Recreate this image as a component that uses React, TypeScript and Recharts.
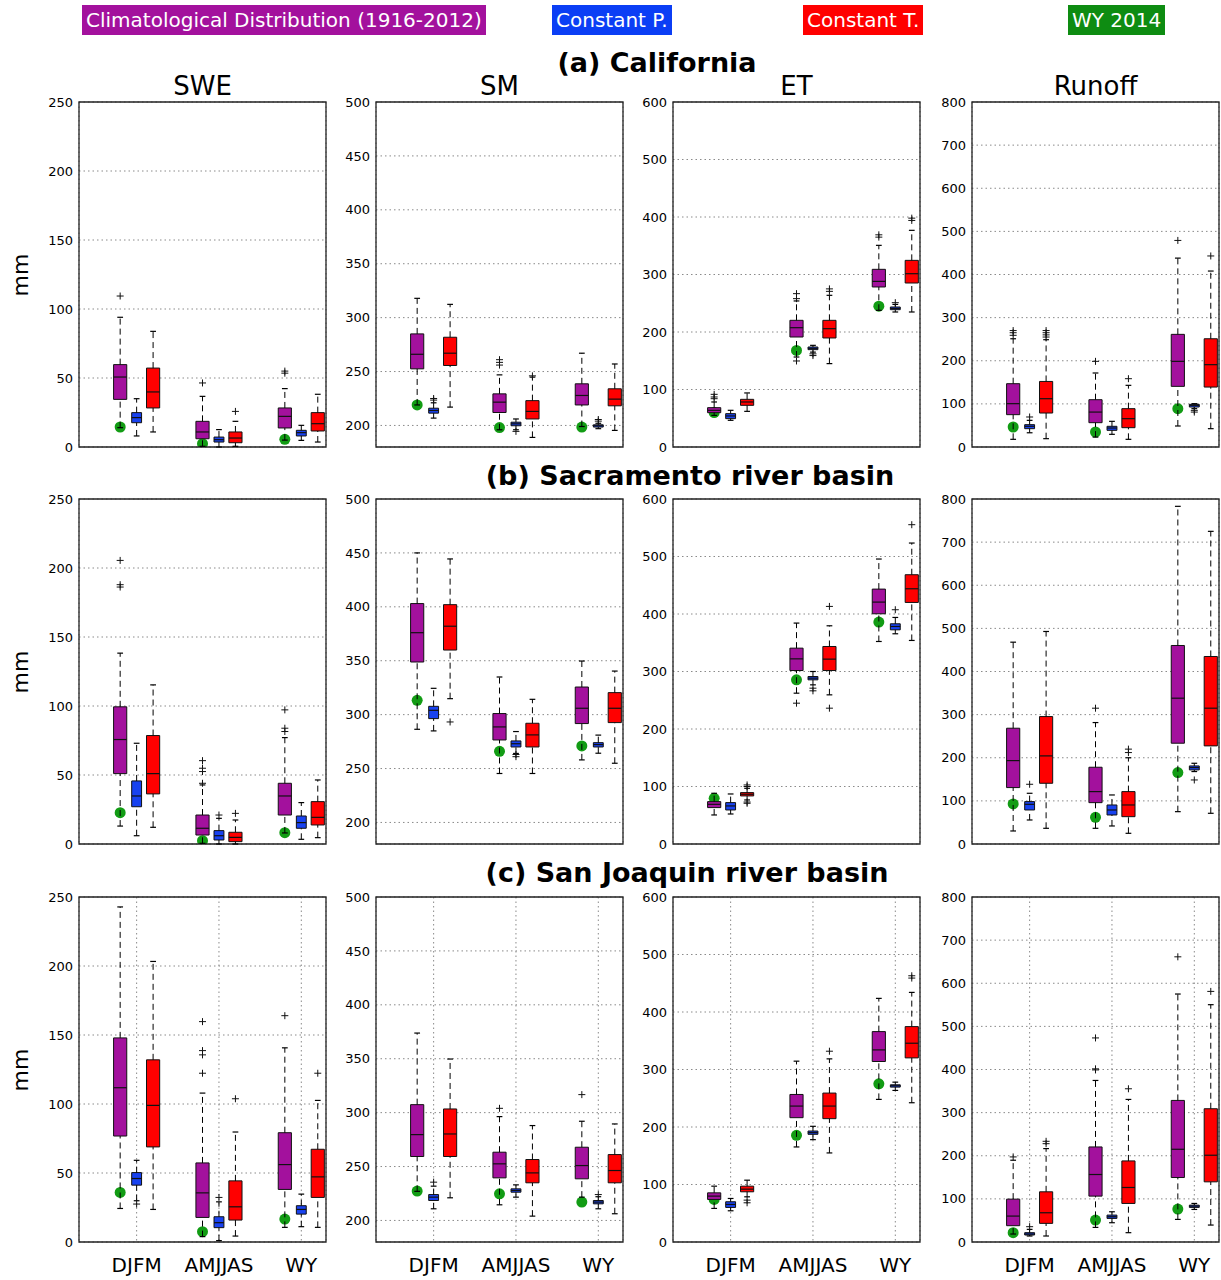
import React from "react"
import { ComposedChart, XAxis, YAxis, CartesianGrid, ReferenceArea, ReferenceLine, Scatter } from "recharts"

// every box: [lower whisker, q1, median, q3, upper whisker]
// each panel lists DJFM (clim, const P, const T), AMJJAS (...), WY (...)
type Stat = [number, number, number, number, number]

const seasons = ["DJFM", "AMJJAS", "WY"]
const variables = ["SWE", "SM", "ET", "Runoff"]
const regions = ["(a) California", "(b) Sacramento river basin", "(c) San Joaquin river basin"]
const legendLabels = ["Climatological Distribution (1916-2012)", "Constant P.", "Constant T.", "WY 2014"]
const boxColors = ["#a3119d", "#1842f0", "#ff0000"]
const legendColors = ["#a3119d", "#0b3ef5", "#ff0000", "#0e8c12"]
const wyColor = "#129c14"

const yDomains: [number, number][] = [[0, 250], [180, 500], [0, 600], [0, 800]]
const yTicks = [
  [0, 50, 100, 150, 200, 250],
  [200, 250, 300, 350, 400, 450, 500],
  [0, 100, 200, 300, 400, 500, 600],
  [0, 100, 200, 300, 400, 500, 600, 700, 800],
]

// ---- (a) California
const caSweStats: Stat[] = [
  [14, 34.5, 50.7, 59.7, 94], [8, 17.6, 21.3, 24.9, 35], [10.9, 28.3, 39.9, 57.2, 83.8],
  [0.5, 6, 10.9, 18.6, 36.7], [0, 3.6, 5.3, 7.2, 12.6], [0.5, 3.1, 6.5, 10.9, 18.6],
  [5, 13.8, 22.2, 28.3, 42.3], [4.8, 8, 10.4, 12.1, 15.7], [3.6, 11.6, 16.9, 24.9, 38.2],
]
const caSweOut = [[109.4], [], [], [46.4], [], [25.8], [53.5, 55], [], []]
const caSweWy = [14.5, 2.4, 5.6]

const caSmStats: Stat[] = [
  [219, 252.5, 266, 284.9, 317.9], [206.8, 211.4, 213.9, 216, 221], [217, 255.6, 267, 281.8, 312.3],
  [196, 212, 221.6, 229.3, 246.9], [196, 199.7, 201.5, 203, 206], [188.9, 206, 213, 223, 244.8],
  [199, 219, 227.8, 238.6, 267], [197, 198.5, 199.7, 200.6, 202], [195.4, 218.2, 224.4, 234, 257],
]
const caSmOut = [[], [223.5, 225], [], [256, 258.5, 261], [194.5], [246], [], [204, 205.5], []]
const caSmWy = [219, 198, 198.5]

const caEtStats: Stat[] = [
  [55, 59.7, 63.8, 68.4, 78.3], [46.4, 49.3, 54, 58, 63.8], [62, 72.5, 78.3, 82.9, 94],
  [156.5, 191.3, 207.5, 220.3, 254], [165, 169.3, 171.6, 173.9, 176.8], [145, 189.6, 205.8, 220.3, 263.8],
  [237.7, 278.3, 288, 309, 350.7], [234.8, 238.8, 241, 243.5, 248], [234.8, 285.2, 301.4, 324.6, 376.8],
]
const caEtOut = [[84, 87, 91.6], [], [], [149.6, 258, 266.7], [159, 162], [270.7, 275], [365, 369], [251], [394, 398]]
const caEtWy = [60, 168, 245]

const caRoStats: Stat[] = [
  [17.8, 75, 100.5, 146.8, 251], [33, 42.5, 48, 51.8, 61.8], [19.3, 78.8, 112, 152, 248.8],
  [23, 56.4, 81, 109.7, 171.6], [29.4, 38.6, 44, 48, 59.5], [17.8, 44.8, 65.7, 88.9, 143],
  [48.7, 140.6, 198.6, 261.2, 438], [88.9, 92.7, 96.6, 98.9, 100.5], [42.5, 139, 190.9, 251, 408],
]
const caRoOut = [[259, 265, 270], [69.6], [255, 260, 265, 270], [198.6], [], [158.4], [479], [81, 85], [443]]
const caRoWy = [46.4, 34.8, 88.9]

// ---- (b) Sacramento
const sacSweStats: Stat[] = [
  [13, 51, 75.7, 99.4, 138.3], [6, 27, 34.8, 45.7, 73], [12.1, 36.3, 51, 78.6, 115.3],
  [0.5, 6.5, 11.4, 21, 42.8], [0, 2.9, 6, 9.7, 18.6], [0, 1.7, 4.8, 8.5, 17.4],
  [8, 21, 34.8, 44, 77.1], [3.4, 11.4, 15.5, 20.3, 30], [4.6, 13.8, 19.3, 30.7, 46.4],
]
const sacSweOut = [[186.2, 187.9, 205.5], [], [], [44, 52.5, 54.9, 60.4], [21], [22.2], [81.5, 83.9, 97.2], [], []]
const sacSweWy = [22.7, 2.4, 8.2]

const sacSmStats: Stat[] = [
  [286.4, 348.8, 376, 403, 450], [284.9, 296.3, 304, 307.7, 324.4], [314.8, 359.9, 382, 402, 444.4],
  [245.4, 276.5, 288.6, 301, 334.9], [264, 270, 273, 275.6, 284.3], [245.4, 270, 281.2, 292, 314.2],
  [258, 291.7, 305.9, 325.6, 349.7], [264.2, 270, 272.2, 274, 281], [254.9, 292.6, 305.9, 320.4, 340.4],
]
const sacSmOut = [[], [], [293.2], [], [261, 263], [], [], [], []]
const sacSmWy = [313.3, 266, 271]

const sacEtStats: Stat[] = [
  [50.5, 63.3, 69, 73.7, 88.2], [52.2, 59.2, 66.2, 72, 87], [76.6, 83.6, 86.5, 89.4, 96.9],
  [262.3, 301.7, 322, 340.6, 384.2], [276.8, 285.5, 288.4, 291.3, 300], [259.4, 301.7, 321.5, 343.5, 379.5],
  [352.2, 400.4, 420.7, 443.3, 495.6], [365.6, 372.5, 378.3, 383, 394], [354, 420.1, 443.9, 468.3, 523.4],
]
const sacEtOut = [[], [], [70.8, 73, 100, 102.7], [244.9], [266.4, 271], [236.2, 413.2], [], [407.4], [555.3]]
const sacEtWy = [79.5, 285.5, 385.9]

const sacRoStats: Stat[] = [
  [30.2, 130.8, 193.4, 268.5, 468], [55.7, 78.9, 92, 98.3, 117.6], [36.4, 140.8, 204.3, 295.5, 492.8],
  [36.4, 95.9, 121.5, 178, 281.6], [41.8, 67.3, 78.9, 90.5, 113.7], [24.8, 63.4, 90.5, 121.5, 200],
  [75, 233.7, 338.1, 460.3, 783], [168, 171.8, 177.2, 181, 187.2], [71.2, 227.5, 314.9, 434.8, 725],
]
const sacRoOut = [[], [138.5], [], [314.9], [], [212, 220], [], [148.5], []]
const sacRoWy = [92.8, 61.9, 165.6]

// ---- (c) San Joaquin
const sjSweStats: Stat[] = [
  [24.3, 76.8, 111.8, 147.9, 242.8], [29.9, 41.2, 46, 50.3, 59.2], [23.6, 68.9, 99, 132, 203.3],
  [3.9, 17.8, 35.6, 57.3, 107.9], [1, 10.4, 14, 18.3, 29.1], [4.3, 15.9, 25.5, 44.3, 79.7],
  [10.6, 38.1, 56.1, 79.2, 140.7], [11.1, 20.2, 23.6, 26.3, 34.7], [10.6, 32.3, 47.2, 67.2, 102.6],
]
const sjSweOut = [[], [27.5], [], [122.3, 135.6, 138.7, 159.7], [32.3], [103.8], [164], [], [122.3]]
const sjSweWy = [35.9, 7.5, 16.6]

const sjSmStats: Stat[] = [
  [227, 259.3, 279.6, 307.4, 373.8], [210.8, 218.5, 221.6, 224, 231.8], [221, 259.3, 280.2, 303.4, 349.7],
  [214.5, 239.5, 252.5, 263.3, 296.3], [221.6, 226.2, 227.8, 229.3, 233], [204, 234.9, 244.1, 256.5, 288],
  [221.6, 238.6, 250.9, 267.9, 292], [210.8, 215.4, 217, 218.5, 222], [206.2, 234.9, 246.3, 261.1, 289.5],
]
const sjSmOut = [[], [235.5], [], [304], [], [], [316.7], [224], []]
const sjSmWy = [227.2, 224.7, 217]

const sjEtStats: Stat[] = [
  [58.4, 74, 79.8, 85.5, 97.1], [54.3, 60.1, 65.3, 70, 75.7], [78.6, 87.3, 91.9, 97.1, 107.5],
  [165.3, 216.2, 236.4, 256.6, 314.5], [178, 187.3, 190.2, 193, 201.2], [154.9, 214.5, 236.4, 259, 318.5],
  [248, 313.9, 334.1, 365.9, 423.7], [263.6, 269.4, 271.7, 273.4, 278], [242.2, 320.2, 345.7, 374.6, 434.1],
]
const sjEtOut = [[], [], [68.2, 72.8], [], [], [331.8], [], [], [459, 463]]
const sjEtWy = [74, 185.5, 275.1]

const sjRoStats: Stat[] = [
  [18.5, 37.8, 60.1, 99.4, 189.6], [13.9, 16.2, 18.5, 21.6, 29.3], [13.9, 43.2, 67.8, 116.4, 216.6],
  [33.9, 106.4, 156.5, 220.4, 374.6], [44.7, 54.7, 58.6, 62.4, 70.1], [21.6, 89.4, 126.4, 188, 330.6],
  [52.4, 149.5, 215, 328.3, 575], [75.5, 80.2, 83.2, 85.5, 89.4], [39.3, 139.5, 201.2, 309, 550.3],
]
const sjRoOut = [[197.3], [35.5], [228, 233.5], [399, 401.5, 473.2], [], [355.3], [661.3], [], [581.1]]
const sjRoWy = [21.6, 50.9, 76.3]

// rows = regions, cols = variables
const panelStats = [
  [caSweStats, caSmStats, caEtStats, caRoStats],
  [sacSweStats, sacSmStats, sacEtStats, sacRoStats],
  [sjSweStats, sjSmStats, sjEtStats, sjRoStats],
]
const panelOut = [
  [caSweOut, caSmOut, caEtOut, caRoOut],
  [sacSweOut, sacSmOut, sacEtOut, sacRoOut],
  [sjSweOut, sjSmOut, sjEtOut, sjRoOut],
]
const panelWy = [
  [caSweWy, caSmWy, caEtWy, caRoWy],
  [sacSweWy, sacSmWy, sacEtWy, sacRoWy],
  [sjSweWy, sjSmWy, sjEtWy, sjRoWy],
]

// layout
const FONT = "'DejaVu Sans', sans-serif"
const PLOT_W = 247
const PLOT_H = 345
const COL_LEFT = [79, 376, 673, 972]
const ROW_TOP = [102, 499, 897]
const Y_AXIS_W = 50
const M = 8
const OFFSETS = [-0.2, 0, 0.2]
const HALF_W = [0.08, 0.06, 0.08]
const CAP_W = 0.035
const X_DOMAIN: [number, number] = [0.3, 3.3]

const Plus = (props: any) => {
  const { cx, cy } = props
  if (cx == null || cy == null) return null
  return (
    <g stroke="#111" strokeWidth={1}>
      <line x1={cx - 3.5} x2={cx + 3.5} y1={cy} y2={cy} />
      <line x1={cx} x2={cx} y1={cy - 3.5} y2={cy + 3.5} />
    </g>
  )
}

const Dot = (props: any) => {
  const { cx, cy } = props
  if (cx == null || cy == null) return null
  return <circle cx={cx} cy={cy} r={5.5} fill={wyColor} />
}

function Panel({ row, col }: { row: number; col: number }) {
  const stats = panelStats[row][col]
  const outs = panelOut[row][col]
  const wy = panelWy[row][col]
  const [lo, hi] = yDomains[col]
  const bottom = row === 2
  const xH = bottom ? 40 : 1
  const pos = (i: number) => Math.floor(i / 3) + 1 + OFFSETS[i % 3]
  const outPts = outs.flatMap((ys, i) => ys.map((y) => ({ x: pos(i), y })))
  const wyPts = wy.map((y, g) => ({ x: g + 1 + OFFSETS[0], y }))

  const marks: React.ReactNode[] = []
  stats.forEach((s, i) => {
    const x = pos(i)
    const w = HALF_W[i % 3]
    const [wl, q1, med, q3, wh] = s
    marks.push(
      <ReferenceLine key={`wl${i}`} segment={[{ x, y: wl }, { x, y: q1 }]} stroke="#000" strokeDasharray="6 4" ifOverflow="visible" />,
      <ReferenceLine key={`wh${i}`} segment={[{ x, y: q3 }, { x, y: wh }]} stroke="#000" strokeDasharray="6 4" ifOverflow="visible" />,
      <ReferenceLine key={`cl${i}`} segment={[{ x: x - CAP_W, y: wl }, { x: x + CAP_W, y: wl }]} stroke="#000" strokeWidth={1.2} ifOverflow="visible" />,
      <ReferenceLine key={`ch${i}`} segment={[{ x: x - CAP_W, y: wh }, { x: x + CAP_W, y: wh }]} stroke="#000" strokeWidth={1.2} ifOverflow="visible" />,
      <ReferenceArea key={`b${i}`} x1={x - w} x2={x + w} y1={q1} y2={q3} fill={boxColors[i % 3]} fillOpacity={1} stroke="#111" strokeWidth={1} ifOverflow="visible" />,
      <ReferenceLine key={`m${i}`} segment={[{ x: x - w, y: med }, { x: x + w, y: med }]} stroke="#111" strokeWidth={1.2} ifOverflow="visible" />,
    )
  })

  return (
    <div style={{ position: "absolute", left: COL_LEFT[col] - Y_AXIS_W, top: ROW_TOP[row] - M }}>
      <ComposedChart
        width={Y_AXIS_W + PLOT_W + M}
        height={M + PLOT_H + xH + (bottom ? 0 : M)}
        margin={{ top: M, right: M, bottom: bottom ? 0 : M, left: 0 }}
      >
        <CartesianGrid stroke="#8a8a8a" strokeDasharray="1.5 3" />
        <XAxis
          type="number"
          dataKey="x"
          domain={X_DOMAIN}
          allowDataOverflow
          ticks={[1, 2, 3]}
          interval={0}
          tickFormatter={(v: number) => seasons[v - 1]}
          tick={bottom ? { fontSize: 20, fill: "#000", fontFamily: FONT } : false}
          height={xH}
          axisLine={false}
          tickLine={false}
          tickSize={0}
          tickMargin={16}
        />
        <YAxis
          type="number"
          domain={[lo, hi]}
          allowDataOverflow
          ticks={yTicks[col]}
          interval={0}
          width={Y_AXIS_W}
          tick={{ fontSize: 13, fill: "#000", fontFamily: FONT }}
          axisLine={false}
          tickLine={false}
          tickSize={0}
          tickMargin={6}
        />
        <Scatter data={wyPts} dataKey="y" shape={Dot} isAnimationActive={false} zIndex={50} />
        {marks}
        <Scatter data={outPts} dataKey="y" shape={Plus} isAnimationActive={false} />
        <ReferenceArea x1={X_DOMAIN[0]} x2={X_DOMAIN[1]} y1={lo} y2={hi} fill="none" stroke="#222" strokeWidth={1.3} ifOverflow="visible" />
      </ComposedChart>
    </div>
  )
}

const ROW_TITLE = [
  { cx: 657, cy: 62 },
  { cx: 690, cy: 475 },
  { cx: 687, cy: 872 },
]
const LEGEND_POS = [82, 552, 803, 1068]

export default function App() {
  const abs = (s: React.CSSProperties): React.CSSProperties => ({ position: "absolute", fontFamily: FONT, whiteSpace: "nowrap", ...s })
  return (
    <div style={{ position: "absolute", left: 0, top: 0, width: 1221, height: 1280, background: "#fff", overflow: "hidden" }}>
      {legendLabels.map((t, i) => (
        <div key={t} style={abs({ left: LEGEND_POS[i], top: 5, height: 30, lineHeight: "30px", padding: "0 4px", background: legendColors[i], color: "#fff", fontSize: 20 })}>
          {t}
        </div>
      ))}
      {regions.map((t, r) => (
        <div key={t} style={abs({ left: ROW_TITLE[r].cx, top: ROW_TITLE[r].cy, transform: "translate(-50%, -50%)", fontSize: 27, fontWeight: "bold", color: "#000" })}>
          {t}
        </div>
      ))}
      {variables.map((v, c) => (
        <div key={v} style={abs({ left: COL_LEFT[c] + PLOT_W / 2, top: 86, transform: "translate(-50%, -50%)", fontSize: 26, color: "#000" })}>
          {v}
        </div>
      ))}
      {ROW_TOP.map((t, r) => (
        <div key={r} style={abs({ left: 20, top: t + PLOT_H / 2, transform: "translate(-50%, -50%) rotate(-90deg)", fontSize: 22, color: "#000" })}>
          mm
        </div>
      ))}
      {ROW_TOP.map((_, r) => variables.map((_v, c) => <Panel key={`${r}-${c}`} row={r} col={c} />))}
    </div>
  )
}
